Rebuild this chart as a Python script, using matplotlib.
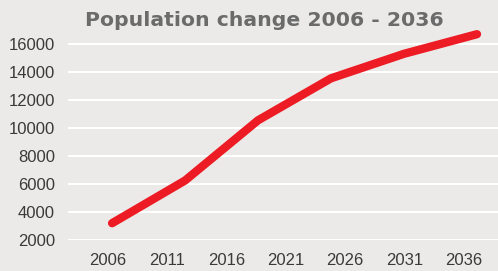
import matplotlib
matplotlib.use("Agg")
import matplotlib.pyplot as plt

title = "Population change 2006 - 2036"
categories = ["2006", "2011", "2016", "2021", "2026", "2031", "2036"]
yticks = [2000, 4000, 6000, 8000, 10000, 12000, 14000, 16000]
population = [3200, 6250, 10550, 13550, 15300, 16700]

W, H = 498, 271
bg = "#ebeae8"
fig = plt.figure(figsize=(W / 100, H / 100), dpi=100, facecolor=bg)
ax_l, ax_r, ax_t, ax_b = 68, 498, 30, 240
ax = fig.add_axes([ax_l / W, 1 - ax_b / H, (ax_r - ax_l) / W, (ax_b - ax_t) / H])
ax.set_facecolor(bg)

# category axis
ax.set_xticks(range(len(categories)))
ax.set_xticklabels(categories)
ax.set_xlim(-0.663, 6.573)
ax.set_ylim(2000, 17000)
ax.set_yticks(yticks)
ax.set_yticklabels([str(v) for v in yticks])
ax.yaxis.grid(True, color="white", linewidth=1.5)
ax.set_axisbelow(True)
for s in ax.spines.values():
    s.set_visible(False)
ax.tick_params(length=0, labelsize=12, labelcolor="#3a3a3a", pad=9.4)
for lab in ax.get_xticklabels() + ax.get_yticklabels():
    lab.set_fontfamily("Liberation Sans")

# line series on its own category scale
ax2 = ax.twiny()
ax2.plot(range(len(population)), population, color="#ed1c24", linewidth=6,
         solid_capstyle="round", solid_joinstyle="round")
ax2.set_xlim(-0.604, 5.288)
ax2.set_ylim(2000, 17000)
ax2.axis("off")

fig.text(264.5 / W, 1 - 20 / H, title, ha="center", va="center",
         fontsize=14.7, fontweight="bold", color="#6b6b6b", family="DejaVu Sans")

fig.savefig("out.png", dpi=100, facecolor=bg)
